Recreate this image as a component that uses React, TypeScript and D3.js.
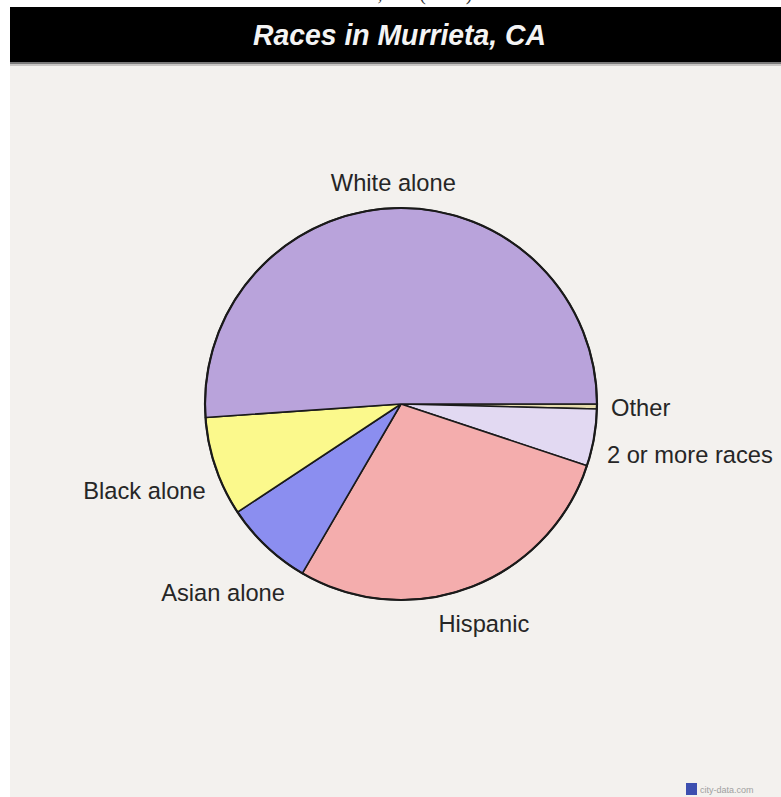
import React, { useEffect, useRef } from "react";
import * as d3 from "d3";

const categories = ["Other", "2 or more races", "Hispanic", "Asian alone", "Black alone", "White alone"];
const values = [0.4, 4.7, 28.3, 7.3, 8.2, 51.1];
const colors = ["#e6dcae", "#e2d9f2", "#f4adad", "#8b8ef0", "#fbf98c", "#b9a3db"];
const title = "Races in Murrieta, CA";

const W = 781;
const H = 797;

export default function App() {
  const ref = useRef<SVGSVGElement>(null);

  useEffect(() => {
    const svg = d3.select(ref.current);
    svg.selectAll("*").remove();

    svg.append("rect").attr("x", 0).attr("y", 0).attr("width", W).attr("height", H).attr("fill", "#ffffff");
    svg.append("rect").attr("x", 10).attr("y", 62).attr("width", W - 10).attr("height", H - 62).attr("fill", "#f3f1ee");

    // heading above, cut off by the top edge as in the reference
    svg.append("text")
      .attr("x", 390).attr("y", 0)
      .attr("text-anchor", "middle")
      .attr("font-family", "'Liberation Serif', serif")
      .attr("font-size", 20)
      .attr("fill", "#333")
      .text("Murrieta, CA (2022)");

    // title bar
    svg.append("rect").attr("x", 10).attr("y", 7).attr("width", W - 10).attr("height", 55).attr("fill", "#000");
    svg.append("rect").attr("x", 10).attr("y", 62).attr("width", W - 10).attr("height", 2).attr("fill", "#7a7a7a");
    svg.append("rect").attr("x", 10).attr("y", 64).attr("width", W - 10).attr("height", 2).attr("fill", "#c8c6c4");
    svg.append("text")
      .attr("x", 253).attr("y", 45)
      .attr("font-family", "'Liberation Sans', Arial, sans-serif")
      .attr("font-weight", "bold")
      .attr("font-style", "italic")
      .attr("font-size", 30)
      .attr("fill", "#f4f4f4")
      .attr("textLength", 293)
      .attr("lengthAdjust", "spacingAndGlyphs")
      .text(title);

    const cx = 401, cy = 404, R = 196;
    const data = categories.map((c, i) => ({ name: c, value: values[i], color: colors[i] }));
    const pie = d3.pie<any>().value((d) => d.value).sort(null)
      .startAngle(Math.PI / 2).endAngle(Math.PI / 2 + 2 * Math.PI);
    const arcs = pie(data);
    const arc = d3.arc<any>().innerRadius(0).outerRadius(R);

    const g = svg.append("g").attr("transform", `translate(${cx},${cy})`);
    g.selectAll("path.slice").data(arcs).enter().append("path")
      .attr("class", "slice")
      .attr("d", arc as any)
      .attr("fill", (d: any) => d.data.color)
      .attr("stroke", "#1a1a1a")
      .attr("stroke-width", 1.6)
      .attr("stroke-linejoin", "round");
    g.append("circle").attr("r", R).attr("fill", "none").attr("stroke", "#1a1a1a").attr("stroke-width", 2.2);

    // labels
    const labelR = 210;
    const hh = 9;
    arcs.forEach((a: any) => {
      const mid = (a.startAngle + a.endAngle) / 2;
      const ux = Math.sin(mid), uy = -Math.cos(mid);
      const t = svg.append("text")
        .attr("font-family", "'Liberation Sans', Arial, sans-serif")
        .attr("font-size", 23.7)
        .attr("fill", "#262626")
        .attr("text-anchor", "middle")
        .text(a.data.name);
      const w = (t.node() as SVGTextElement).getComputedTextLength();
      const d = labelR + Math.abs(ux) * w / 2 + Math.abs(uy) * hh;
      const lx = cx + ux * d;
      const ly = cy + uy * d;
      t.attr("x", lx).attr("y", ly + 8.5);
    });

    // watermark
    svg.append("rect").attr("x", 686).attr("y", 783).attr("width", 11).attr("height", 12).attr("fill", "#3d4fb0");
    svg.append("text")
      .attr("x", 700).attr("y", 793)
      .attr("font-family", "'Liberation Sans', Arial, sans-serif")
      .attr("font-size", 9)
      .attr("fill", "#a0a0a0")
      .text("city-data.com");
  }, []);

  return (
    <svg ref={ref} width={W} height={H} style={{ position: "absolute", left: 0, top: 0 }} />
  );
}
